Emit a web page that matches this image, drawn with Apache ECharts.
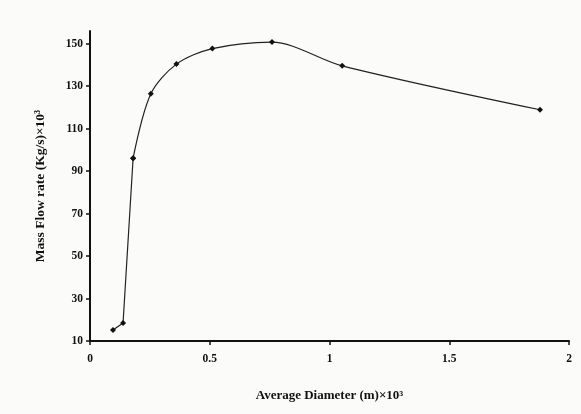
<!DOCTYPE html>
<html>
<head>
<meta charset="utf-8">
<script src="https://cdn.jsdelivr.net/npm/echarts@6/dist/echarts.min.js"></script>
<style>html,body{margin:0;padding:0;background:#fbfbfa;}#c{width:581px;height:414px;}</style>
</head>
<body>
<div id="c"></div>
<script>
const diameter = [0.096, 0.138, 0.18, 0.254, 0.361, 0.511, 0.76, 1.053, 1.879];
const massFlow = [15.2, 18.5, 96.1, 126.4, 140.4, 147.7, 150.8, 139.6, 118.9];
const yTicks = [10, 30, 50, 70, 90, 110, 130, 150];
const xTicks = [0, 0.5, 1, 1.5, 2];

const points = diameter.map((d, i) => [d, massFlow[i]]);
const chart = echarts.init(document.getElementById('c'));
const font = 'Liberation Serif';
const lineStyle = {color: '#222', width: 1.2};
chart.setOption({
  backgroundColor: '#fbfbfa',
  animation: false,
  grid: {left: 90, right: 12, top: 31, bottom: 73},
  xAxis: {
    type: 'value', min: 0, max: 2, interval: 0.5,
    name: 'Average Diameter (m)×10³', nameLocation: 'middle', nameGap: 48,
    nameTextStyle: {fontFamily: font, fontWeight: 'bold', fontSize: 13, color: '#111'},
    axisLine: {show: true, lineStyle: {color: '#111', width: 2}},
    axisTick: {show: true, length: 4, lineStyle: {color: '#111', width: 1.5}},
    axisLabel: {fontFamily: font, fontWeight: 'bold', fontSize: 11.5, color: '#111', margin: 12,
      customValues: xTicks},
    splitLine: {show: false}
  },
  yAxis: {
    type: 'value', min: 10, max: 156,
    name: 'Mass Flow rate (Kg/s)×10³', nameLocation: 'middle', nameGap: 42,
    nameTextStyle: {fontFamily: font, fontWeight: 'bold', fontSize: 13.5, color: '#111'},
    axisLine: {show: true, lineStyle: {color: '#111', width: 2}},
    axisTick: {show: true, length: 4, lineStyle: {color: '#111', width: 1.5}, customValues: yTicks},
    axisLabel: {fontFamily: font, fontWeight: 'bold', fontSize: 11.5, color: '#111', margin: 7,
      customValues: yTicks},
    splitLine: {show: false}
  },
  series: [{
    type: 'line',
    data: points.slice(0, 3),
    smooth: false,
    symbol: 'diamond', symbolSize: 6,
    itemStyle: {color: '#111'},
    lineStyle: lineStyle
  }, {
    type: 'line',
    data: points.slice(2),
    smooth: 0.3,
    symbol: 'diamond', symbolSize: 6,
    itemStyle: {color: '#111'},
    lineStyle: lineStyle
  }]
});
</script>
</body>
</html>
